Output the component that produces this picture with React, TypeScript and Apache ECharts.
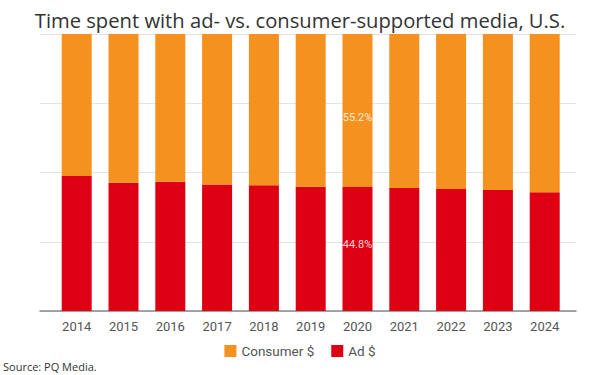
import React, { useEffect, useRef } from "react";
import * as echarts from "echarts";

const years = ["2014", "2015", "2016", "2017", "2018", "2019", "2020", "2021", "2022", "2023", "2024"];
const consumerShare = [51.3, 53.7, 53.3, 54.3, 54.6, 55.1, 55.2, 55.6, 56.0, 56.3, 57.1];
const adShare = [48.7, 46.3, 46.7, 45.7, 45.4, 44.9, 44.8, 44.4, 44.0, 43.7, 42.9];
const labelledYear = "2020";

const ORANGE = "#F5911E";
const RED = "#DE0012";

export default function App() {
  const ref = useRef<HTMLDivElement>(null);
  useEffect(() => {
    if (!ref.current) return;
    const chart = echarts.init(ref.current, null, { renderer: "svg" });
    const mk = (vals: number[], offset: number[]) =>
      vals.map((v, i) =>
        years[i] === labelledYear
          ? {
              value: v,
              label: {
                show: true,
                position: "inside",
                offset,
                formatter: (p: any) => p.value.toFixed(1) + "%",
                color: "rgba(255,255,255,0.85)",
                fontSize: 11,
                fontFamily: "Roboto",
              },
            }
          : v
      );
    chart.setOption({
      animation: false,
      title: {
        text: "Time spent with ad- vs. consumer-supported media, U.S.",
        left: "center",
        top: 5,
        textStyle: { fontFamily: "Open Sans", fontSize: 20.2, fontWeight: "normal", color: "#333" },
      },
      legend: {
        data: ["Consumer $", "Ad $"],
        bottom: 12,
        left: "center",
        itemWidth: 12,
        itemHeight: 12,
        itemGap: 17,
        icon: "rect",
        textStyle: { fontFamily: "Roboto", fontSize: 13.5, color: "#555" },
      },
      graphic: [
        {
          type: "text",
          left: 3,
          top: 361,
          style: { text: "Source: PQ Media.", font: "11px 'Open Sans'", fill: "#333" },
        },
      ],
      grid: [
        { left: 40, right: 24, top: 34, bottom: 64 },
        { left: 53.3, right: 31.9, top: 34, bottom: 64 },
      ],
      xAxis: [
        {
          gridIndex: 0,
          type: "value",
          min: 0,
          max: 1,
          axisLine: { show: true, lineStyle: { color: "#888", width: 1.5 } },
          axisTick: { show: false },
          axisLabel: { show: false },
          splitLine: { show: false },
        },
        {
          gridIndex: 1,
          type: "category",
          data: years,
          axisLine: { show: false },
          axisTick: { show: false },
          axisLabel: { fontFamily: "Roboto", fontSize: 13, color: "#555", margin: 9 },
        },
      ],
      yAxis: [
        {
          gridIndex: 0,
          type: "value",
          min: 0,
          max: 100,
          interval: 25,
          axisLine: { show: false },
          axisTick: { show: false },
          axisLabel: { show: false },
          splitLine: { lineStyle: { color: "#e4e4e4", width: 1 } },
        },
        {
          gridIndex: 1,
          type: "value",
          min: 0,
          max: 100,
          show: false,
          splitLine: { show: false },
        },
      ],
      series: [
        {
          name: "Ad $",
          type: "bar",
          stack: "total",
          xAxisIndex: 1,
          yAxisIndex: 1,
          barWidth: 30,
          itemStyle: { color: RED },
          data: mk(adShare, [0, -4]),
        },
        {
          name: "Consumer $",
          type: "bar",
          stack: "total",
          xAxisIndex: 1,
          yAxisIndex: 1,
          barWidth: 30,
          itemStyle: { color: ORANGE },
          data: mk(consumerShare, [0, 7]),
        },
      ],
    });
    return () => chart.dispose();
  }, []);
  return <div ref={ref} style={{ width: 600, height: 375, position: "absolute", left: 0, top: 0 }} />;
}
